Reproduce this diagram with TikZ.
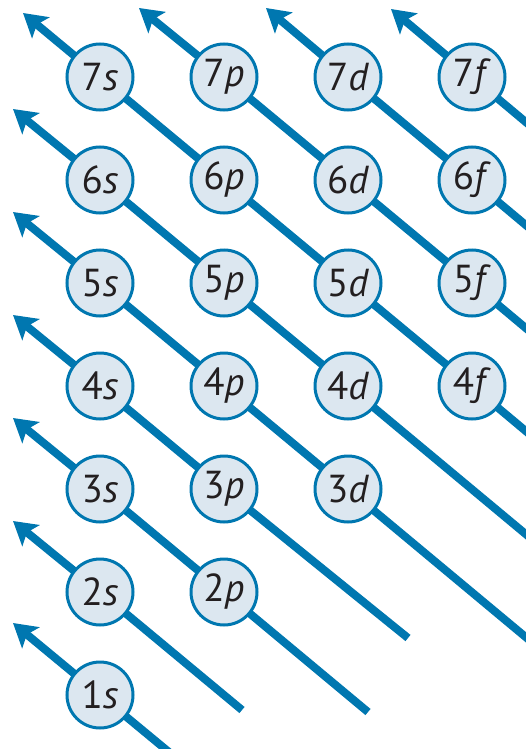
\documentclass[tikz,border=0pt]{standalone}
\usepackage{fontspec}
\setmainfont{PT Sans}
\usetikzlibrary{arrows.meta,backgrounds}
\definecolor{orbblue}{HTML}{0077B0}
\definecolor{orbfill}{HTML}{DCE7F0}
\definecolor{orbtext}{HTML}{231F20}
\begin{document}
\begin{tikzpicture}[x=1pt,y=-1pt,
  orb/.style={circle, draw=orbblue, line width=3pt, fill=orbfill,
    minimum size=66pt, inner sep=0pt, text=orbtext,
    font=\fontsize{39}{39}\selectfont},
  flow/.style={draw=orbblue, line width=8pt, line cap=butt,
    -{Stealth[length=23pt,width=27pt,inset=5pt]}}]
\useasboundingbox (0,0) rectangle (526,749);
% orbitals
\node[orb] (n7s) at (100,77)  {7\textit{s}};
\node[orb] (n7p) at (224,77)  {7\textit{p}};
\node[orb] (n7d) at (348,77)  {7\textit{d}};
\node[orb] (n7f) at (472,77)  {7\textit{f}};
\node[orb] (n6s) at (100,180) {6\textit{s}};
\node[orb] (n6p) at (224,180) {6\textit{p}};
\node[orb] (n6d) at (348,180) {6\textit{d}};
\node[orb] (n6f) at (472,180) {6\textit{f}};
\node[orb] (n5s) at (100,283) {5\textit{s}};
\node[orb] (n5p) at (224,283) {5\textit{p}};
\node[orb] (n5d) at (348,283) {5\textit{d}};
\node[orb] (n5f) at (472,283) {5\textit{f}};
\node[orb] (n4s) at (100,386) {4\textit{s}};
\node[orb] (n4p) at (224,386) {4\textit{p}};
\node[orb] (n4d) at (348,386) {4\textit{d}};
\node[orb] (n4f) at (472,386) {4\textit{f}};
\node[orb] (n3s) at (100,489) {3\textit{s}};
\node[orb] (n3p) at (224,489) {3\textit{p}};
\node[orb] (n3d) at (348,489) {3\textit{d}};
\node[orb] (n2s) at (100,592) {2\textit{s}};
\node[orb] (n2p) at (224,592) {2\textit{p}};
\node[orb] (n1s) at (100,695) {1\textit{s}};
% arrow ends
\coordinate (e1)  at (187,767);
\coordinate (e2)  at (242,710);
\coordinate (e3)  at (368,712);
\coordinate (e4)  at (408,638);
\coordinate (e5)  at (546,654);
\coordinate (e6)  at (546,551);
\coordinate (e7)  at (546,448);
\coordinate (e8)  at (546,345);
\coordinate (e9)  at (546,242);
\coordinate (e10) at (546,139);
% arrow tips
\coordinate (t1)  at (13,623);
\coordinate (t2)  at (13,521);
\coordinate (t3)  at (13,418);
\coordinate (t4)  at (13,315);
\coordinate (t5)  at (13,212);
\coordinate (t6)  at (13,109);
\coordinate (t7)  at (23,13);
\coordinate (t8)  at (139,8);
\coordinate (t9)  at (266,8);
\coordinate (t10) at (391,9);
\begin{scope}[on background layer]
\clip (0,0) rectangle (526,749);
\draw[flow] (e1) -- (n1s.center) -- (t1);
\draw[flow] (e2) -- (n2s.center) -- (t2);
\draw[flow] (e3) -- (n2p.center) -- (n3s.center) -- (t3);
\draw[flow] (e4) -- (n3p.center) -- (n4s.center) -- (t4);
\draw[flow] (e5) -- (n3d.center) -- (n4p.center) -- (n5s.center) -- (t5);
\draw[flow] (e6) -- (n4d.center) -- (n5p.center) -- (n6s.center) -- (t6);
\draw[flow] (e7) -- (n4f.center) -- (n5d.center) -- (n6p.center) -- (n7s.center) -- (t7);
\draw[flow] (e8) -- (n5f.center) -- (n6d.center) -- (n7p.center) -- (t8);
\draw[flow] (e9) -- (n6f.center) -- (n7d.center) -- (t9);
\draw[flow] (e10) -- (n7f.center) -- (t10);
\end{scope}
\end{tikzpicture}
\end{document}
